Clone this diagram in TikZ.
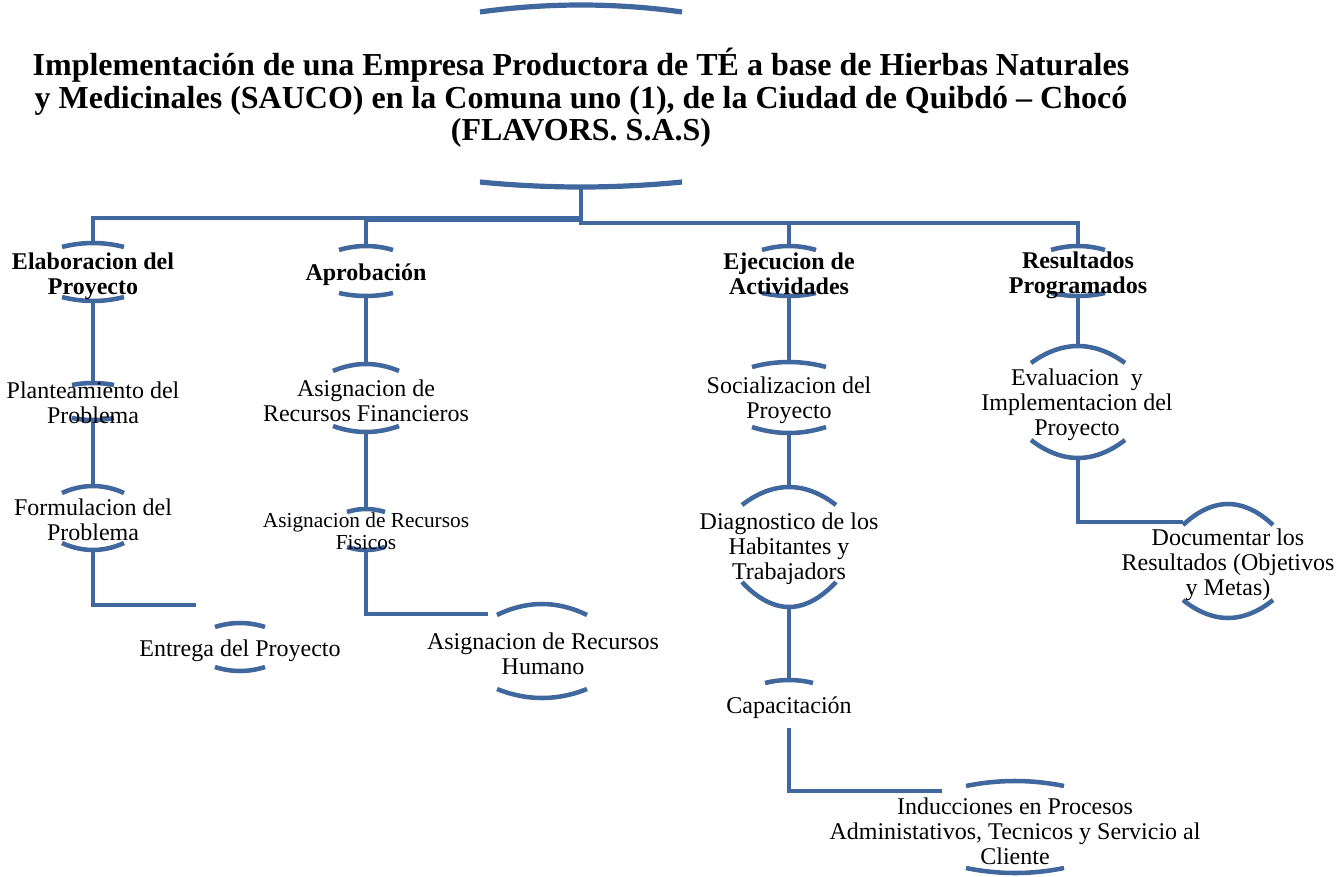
\documentclass[tikz,border=0pt]{standalone}
\usepackage{fontspec}
\setmainfont{Liberation Serif}
\definecolor{lc}{RGB}{64,104,158}
% #1 name, #2 cx, #3 half width, #4 top end y, #5 top mid y, #6 bottom end y, #7 bottom mid y
\newcommand\arcpair[7]{%
  \draw[arcline] (#2-#3,#4) parabola bend (#2,#5) (#2+#3,#4);
  \draw[arcline] (#2-#3,#6) parabola bend (#2,#7) (#2+#3,#6);
  \coordinate (#1-t) at (#2,#5);
  \coordinate (#1-b) at (#2,#7);
}
\begin{document}
\begin{tikzpicture}[x=0.75pt,y=-0.75pt,
  conn/.style={draw=lc,line width=3.6pt},
  arcline/.style={draw=lc,line width=3.4pt},
  lbl/.style={font=\fontsize{18}{18.75}\selectfont,align=center,inner sep=0pt,text=black},
  blbl/.style={font=\fontsize{18}{18.75}\selectfont\bfseries,align=center,inner sep=0pt,text=black},
  slbl/.style={font=\fontsize{16}{16.5}\selectfont,align=center,inner sep=0pt,text=black},
  tlbl/.style={font=\fontsize{24}{24.4}\selectfont\bfseries,align=center,inner sep=0pt,text=black}]
\useasboundingbox (0,0) rectangle (1337,877);

% arcs (decorative brackets) and anchor coordinates
\draw[arcline,line width=3.9pt] (480,12) parabola bend (581,5) (682,12);
\draw[arcline,line width=3.9pt] (480,182) parabola bend (581,187) (682,182);
\coordinate (root-b) at (581,187);

\arcpair{elab}{93}{31}{247}{243}{297}{301}
\arcpair{aprob}{366}{27}{250}{246}{293}{296}
\arcpair{ejec}{789}{27}{250}{246}{293}{296}
\arcpair{result}{1078}{27}{250}{246}{293}{296}

\arcpair{plant}{93}{21}{385}{383}{418}{420}
\arcpair{formul}{93}{31}{493}{486}{543}{550}
\arcpair{entrega}{240}{25}{627}{623}{667}{671}

\arcpair{fin}{366}{33}{371}{364}{426}{432}
\arcpair{fis}{366}{19}{512}{509}{547}{550}
\arcpair{hum}{542}{45}{615}{604}{689}{698}

\arcpair{soc}{789}{37}{367}{362}{427}{433}
\arcpair{diag}{789}{47}{505}{487}{582}{607}
\draw[arcline] (765,683) parabola bend (789,680) (813,683);
\coordinate (capac-t) at (789,680);
\coordinate (capac-b) at (789,728);
\arcpair{induc}{1015}{49}{786}{781}{868}{873}

\arcpair{eval}{1078}{47}{363}{346}{440}{458}
\arcpair{doc}{1228}{45}{525}{504}{600}{618}

% junctions and free ends
\coordinate (j1) at (581,218);
\coordinate (j2) at (581,220);
\coordinate (j3) at (581,223);
\coordinate (entL) at (196,605);
\coordinate (humL) at (488,614);
\coordinate (indL) at (942,791);
\coordinate (docL) at (1183,522);

% connectors
\draw[conn] (root-b) -- (j1) -| (elab-t);
\draw[conn] (root-b) -- (j2) -| (aprob-t);
\draw[conn] (root-b) -- (j3) -| (ejec-t);
\draw[conn] (root-b) -- (j3) -| (result-t);

\draw[conn] (elab-b) -- (plant-t);
\draw[conn] (plant-b) -- (formul-t);
\draw[conn] (formul-b) |- (entL);

\draw[conn] (aprob-b) -- (fin-t);
\draw[conn] (fin-b) -- (fis-t);
\draw[conn] (fis-b) |- (humL);

\draw[conn] (ejec-b) -- (soc-t);
\draw[conn] (soc-b) -- (diag-t);
\draw[conn] (diag-b) -- (capac-t);
\draw[conn] (capac-b) |- (indL);

\draw[conn] (result-b) -- (eval-t);
\draw[conn] (eval-b) |- (docL);

% texts
\node[tlbl] (title) at (581,98) {Implementación de una Empresa Productora de TÉ a base de Hierbas Naturales\\y Medicinales (SAUCO) en la Comuna uno (1), de la Ciudad de Quibdó – Chocó\\(FLAVORS. S.A.S)};

\node[blbl] (elab) at (93,276.5) {Elaboracion del\\Proyecto};
\node[blbl] (aprob) at (366,275) {Aprobación};
\node[blbl] (ejec) at (789,274) {Ejecucion de\\Actividades};
\node[blbl] (result) at (1078,275) {Resultados\\Programados};

\node[lbl] (plant) at (93,403) {Planteamiento del\\Problema};
\node[lbl] (formul) at (93,519.5) {Formulacion del\\Problema};
\node[lbl] (entrega) at (240,651) {Entrega del Proyecto};

\node[lbl] (fin) at (366,401) {Asignacion de\\Recursos Financieros};
\node[slbl] (fis) at (366,531) {Asignacion de Recursos\\Fisicos};
\node[lbl] (hum) at (543,654) {Asignacion de Recursos\\Humano};

\node[lbl] (soc) at (789,400) {Socializacion del\\Proyecto};
\node[lbl] (diag) at (789,549) {Diagnostico de los\\Habitantes y\\Trabajadors};
\node[lbl] (capac) at (789,708) {Capacitación};
\node[lbl] (induc) at (1015,831) {Inducciones en Procesos\\Administativos, Tecnicos y Servicio al\\Cliente};

\node[lbl] (eval) at (1077,405) {Evaluacion\ \ y\\Implementacion del\\Proyecto};
\node[lbl] (doc) at (1228,565) {Documentar los\\Resultados (Objetivos\\y Metas)};
\end{tikzpicture}
\end{document}
